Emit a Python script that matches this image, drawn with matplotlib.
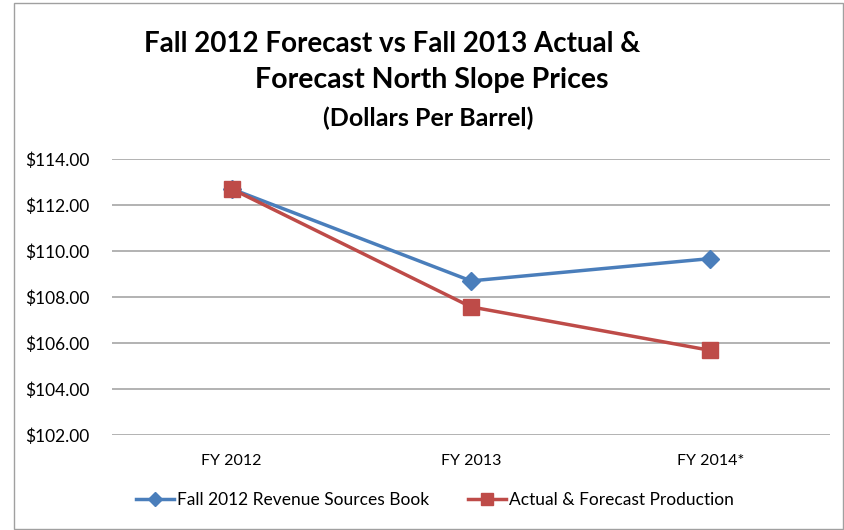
import matplotlib
matplotlib.use("Agg")
import matplotlib.pyplot as plt
from matplotlib.patches import Rectangle

categories = ["FY 2012", "FY 2013", "FY 2014*"]
book = [112.70, 108.70, 109.67]
actual = [112.70, 107.57, 105.68]
series_names = ["Fall 2012 Revenue Sources Book", "Actual & Forecast Production"]
yticks = [102, 104, 106, 108, 110, 112, 114]

plt.rcParams['font.family'] = ['Lato', 'DejaVu Sans']

fig = plt.figure(figsize=(8.45, 5.3), dpi=100)
fig.patches.append(Rectangle((14/845, 1/530), (843-14)/845, (527-1)/530,
                             transform=fig.transFigure, fill=False,
                             edgecolor='#a0a0a0', linewidth=1.0))
ax = fig.add_axes([112/845, (530-435)/530, 718/845, 276/530])

x = list(range(len(categories)))
ax.plot(x, book, color='#4a7ebb', linewidth=2.5, marker='D', markersize=9,
        label=series_names[0], zorder=3)
ax.plot(x, actual, color='#be4b48', linewidth=2.5, marker='s', markersize=11,
        label=series_names[1], zorder=4)

ax.set_xlim(-0.5, 2.5)
ax.set_ylim(102, 114)
ax.set_yticks(yticks)
ax.set_yticklabels([f"${v:.2f}" for v in yticks], fontsize=12.5)
ax.set_xticks(x)
ax.set_xticklabels(categories, fontsize=11.5)
ax.tick_params(axis='x', length=0, pad=14)
ax.tick_params(axis='y', length=0, pad=16)
ax.grid(axis='y', color='#a6a6a6', linewidth=1.2)
ax.set_axisbelow(True)
for s in ax.spines.values():
    s.set_visible(False)

fig.text(392/845, 1 - 44/530, "Fall 2012 Forecast vs Fall 2013 Actual &",
         ha='center', va='center', fontsize=20, fontweight='bold')
fig.text(432/845, 1 - 80/530, "Forecast North Slope Prices",
         ha='center', va='center', fontsize=20.5, fontweight='bold')
fig.text(428/845, 1 - 118/530, "(Dollars Per Barrel)",
         ha='center', va='center', fontsize=18, fontweight='bold')

fig.legend(loc='center', bbox_to_anchor=(435/845, 1 - 500/530), ncol=2,
           frameon=False, fontsize=12.5, handlelength=2.2, handletextpad=0.2,
           columnspacing=2.2, markerscale=0.75)

fig.savefig("out.png", dpi=100)
